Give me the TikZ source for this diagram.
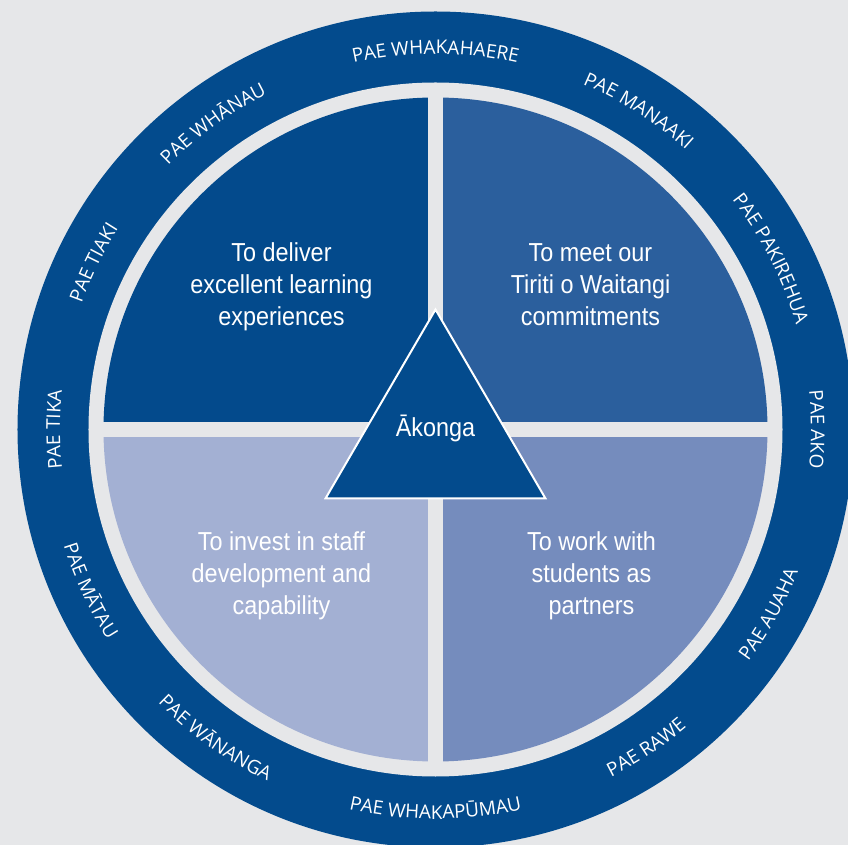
\documentclass[tikz,border=0pt]{standalone}
\usepackage{fontspec}
\setmainfont{Liberation Sans}
\newfontfamily\quadfont[FakeStretch=0.9]{Liberation Sans}
\newfontfamily\ringfont{Open Sans}
\usetikzlibrary{decorations.text}
\definecolor{bgc}{HTML}{E6E7E9}
\definecolor{ringc}{HTML}{034B8D}
\definecolor{qtl}{HTML}{034A8C}
\definecolor{qtr}{HTML}{2B5F9D}
\definecolor{qbr}{HTML}{758CBD}
\definecolor{qbl}{HTML}{A3B0D3}
\newcommand\ringlbl{\ringfont\fontsize{19}{19}\selectfont\color{white}}
\newcommand\outlabel[2]{\path[decorate, decoration={text along path, text align=center, text={|\ringlbl|#2}}] (#1+40:375.5pt) arc[start angle=#1+40, end angle=#1-40, radius=375.5pt];}
\newcommand\inlabel[2]{\path[decorate, decoration={text along path, text align=center, text={|\ringlbl|#2}}] (#1-40:389.5pt) arc[start angle=#1-40, end angle=#1+40, radius=389.5pt];}
\tikzset{
  quadtext/.style={text=white, align=center, font=\quadfont\fontsize{26}{32}\selectfont, inner sep=0pt},
  centertext/.style={text=white, font=\quadfont\fontsize{26}{32}\selectfont, inner sep=0pt, anchor=base},
  tri/.style={fill=ringc, draw=white, line width=2pt, line join=miter}
}
\begin{document}
\begin{tikzpicture}
\fill[bgc] (-435.5pt,-415.5pt) rectangle (412.5pt,429.5pt);
\useasboundingbox (-435.5pt,-415.5pt) rectangle (412.5pt,429.5pt);
\fill[ringc] (0,0) circle[radius=418pt];
\fill[bgc] (0,0) circle[radius=347pt];
\fill[qtl] (0,0) -- (180:332pt) arc[start angle=180,end angle=90,radius=332pt] -- cycle;
\fill[qtr] (0,0) -- (90:332pt) arc[start angle=90,end angle=0,radius=332pt] -- cycle;
\fill[qbr] (0,0) -- (0:332pt) arc[start angle=0,end angle=-90,radius=332pt] -- cycle;
\fill[qbl] (0,0) -- (-90:332pt) arc[start angle=-90,end angle=-180,radius=332pt] -- cycle;
\fill[bgc] (-7.5pt,-340pt) rectangle (7.5pt,340pt);
\fill[bgc] (-340pt,-7.5pt) rectangle (340pt,7.5pt);
\coordinate (tA) at (0pt,120pt);
\coordinate (tL) at (-110pt,-69pt);
\coordinate (tR) at (110pt,-69pt);
\draw[tri] (tA) -- (tL) -- (tR) -- cycle;
\node[centertext] (ako) at (0pt,-7pt) {Ākonga};
\node[quadtext] (qTL) at (-154pt,142pt) {\strut To deliver\\excellent learning\\experiences\strut};
\node[quadtext] (qTR) at (155pt,142pt) {\strut To meet our\\Tiriti o Waitangi\\commitments\strut};
\node[quadtext] (qBL) at (-154pt,-147pt) {\strut To invest in staff\\development and\\capability\strut};
\node[quadtext] (qBR) at (156pt,-147pt) {\strut To work with\\students as\\partners\strut};
\outlabel{90}{PAE WHAKAHAERE}
\outlabel{57.5}{PAE MANAAKI}
\outlabel{27}{PAE PAKIREHUA}
\outlabel{0}{PAE AKO}
\outlabel{180}{PAE TIKA}
\outlabel{154}{PAE TIAKI}
\outlabel{126}{PAE WHĀNAU}
\inlabel{-29}{PAE AUAHA}
\inlabel{-56.5}{PAE RAWE}
\inlabel{-90}{PAE WHAKAPŪMAU}
\inlabel{-125.5}{PAE WĀNANGA}
\inlabel{-155}{PAE MĀTAU}
\end{tikzpicture}
\end{document}
